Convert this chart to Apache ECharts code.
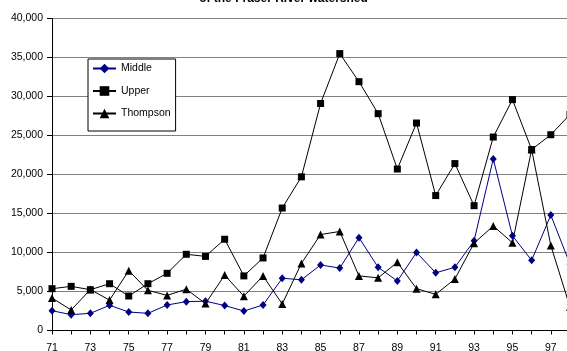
<!DOCTYPE html>
<html>
<head>
<meta charset="utf-8">
<script src="https://cdn.jsdelivr.net/npm/echarts@6/dist/echarts.min.js"></script>
<style>html,body{margin:0;padding:0;background:#fff;}#c{width:567px;height:351px;}</style>
</head>
<body>
<div id="c"></div>
<script>
const years = ['71','72','73','74','75','76','77','78','79','80','81','82','83','84','85','86','87','88','89','90','91','92','93','94','95','96','97','98'];
const middle = [2540,2030,2200,3230,2370,2200,3270,3700,3760,3200,2500,3270,6700,6500,8400,8000,11900,8100,6350,10000,7400,8100,11500,22000,12150,9000,14800,8500];
const upper = [5360,5660,5230,6000,4420,6000,7330,9770,9500,11700,7000,9300,15700,19700,29100,35500,31900,27800,20700,26600,17300,21400,16000,24800,29600,23200,25100,27700];
const thompson = [4170,2630,5250,3900,7670,5150,4500,5300,3450,7100,4400,7000,3400,8600,12300,12700,7000,6750,8750,5360,4640,6600,11200,13400,11250,23200,10900,3000];
const titleText = 'of the Fraser River watershed';

const FONT = '"Liberation Sans", Arial, sans-serif';
const chart = echarts.init(document.getElementById('c'), null, {renderer: 'canvas'});
chart.setOption({
  animation: false,
  backgroundColor: '#fff',
  textStyle: {fontFamily: FONT, color: '#000'},
  graphic: [{
    type: 'text', left: 'center', top: -7,
    style: {text: titleText, font: 'bold 12px ' + FONT, fill: '#000'}
  }],
  grid: {left: 52, top: 18.5, width: 518, bottom: 20.5, containLabel: false, outerBoundsMode: 'none'},
  legend: {
    orient: 'vertical', left: 88, top: 59,
    padding: [4, 5, 12, 4], itemGap: 11.5, itemWidth: 23, itemHeight: 12,
    backgroundColor: '#fff', borderColor: '#000', borderWidth: 1, borderRadius: 0,
    textStyle: {fontFamily: FONT, fontSize: 10.5, color: '#000'},
    data: ['Middle', 'Upper', 'Thompson']
  },
  xAxis: {
    type: 'category', data: years, boundaryGap: false,
    axisLine: {lineStyle: {color: '#000', width: 1}},
    axisTick: {show: true, interval: 0, length: 4, lineStyle: {color: '#000'}},
    axisLabel: {interval: 1, margin: 12, fontSize: 10.5, color: '#000', fontFamily: FONT},
    splitLine: {show: false}
  },
  yAxis: {
    type: 'value', min: 0, max: 40000, interval: 5000,
    axisLine: {show: true, lineStyle: {color: '#000', width: 1}},
    axisTick: {show: true, length: 5, lineStyle: {color: '#000'}},
    axisLabel: {margin: 9, fontSize: 10.5, color: '#000', fontFamily: FONT,
      formatter: v => v.toLocaleString('en-US')},
    splitLine: {show: true, lineStyle: {color: '#808080', width: 1}}
  },
  series: [
    {name: 'Middle', type: 'line', data: middle, symbol: 'diamond', symbolSize: [7, 8],
     lineStyle: {color: '#000080', width: 1}, itemStyle: {color: '#000080'}},
    {name: 'Upper', type: 'line', data: upper, symbol: 'rect', symbolSize: 7,
     lineStyle: {color: '#000', width: 1}, itemStyle: {color: '#000'}},
    {name: 'Thompson', type: 'line', data: thompson, symbol: 'triangle', symbolSize: 8,
     lineStyle: {color: '#000', width: 1}, itemStyle: {color: '#000'}}
  ]
});
</script>
</body>
</html>
